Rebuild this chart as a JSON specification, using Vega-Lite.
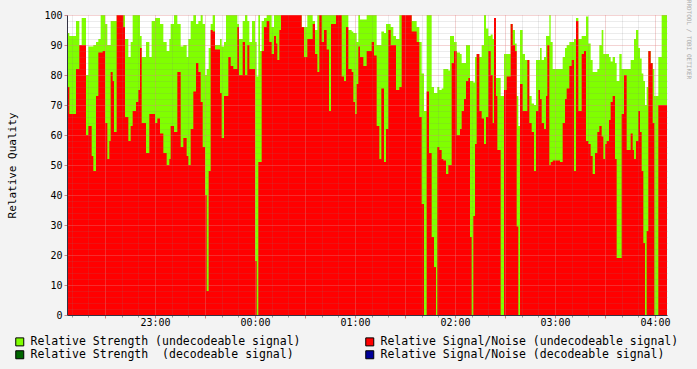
{
  "$schema": "https://vega.github.io/schema/vega-lite/v6.json",
  "width": 600,
  "height": 300,
  "autosize": {"type": "none"},
  "padding": {"left": 67, "top": 15, "right": 30, "bottom": 54},
  "background": "#f3f3f3",
  "config": {"view": {"fill": "#ffffff", "stroke": null}, "font": "DejaVu Sans Mono"},
  "data": {"values": [
    {"t":"2024-01-01T22:07:12","s":94,"n":76},
    {"t":"2024-01-01T22:08:36","s":93,"n":67},
    {"t":"2024-01-01T22:12:36","s":98,"n":82},
    {"t":"2024-01-01T22:14:36","s":90,"n":90},
    {"t":"2024-01-01T22:16:00","s":99,"n":90},
    {"t":"2024-01-01T22:18:36","s":80,"n":60},
    {"t":"2024-01-01T22:20:00","s":89.5,"n":63},
    {"t":"2024-01-01T22:22:00","s":89.5,"n":53},
    {"t":"2024-01-01T22:23:00","s":90,"n":48},
    {"t":"2024-01-01T22:24:36","s":91,"n":73},
    {"t":"2024-01-01T22:26:00","s":92,"n":87.5},
    {"t":"2024-01-01T22:27:24","s":100,"n":87.5},
    {"t":"2024-01-01T22:28:36","s":100,"n":88},
    {"t":"2024-01-01T22:30:00","s":97,"n":64},
    {"t":"2024-01-01T22:31:24","s":90,"n":52},
    {"t":"2024-01-01T22:32:36","s":90,"n":58},
    {"t":"2024-01-01T22:33:24","s":98,"n":81},
    {"t":"2024-01-01T22:34:36","s":98,"n":78},
    {"t":"2024-01-01T22:35:24","s":98,"n":61},
    {"t":"2024-01-01T22:37:00","s":100,"n":100},
    {"t":"2024-01-01T22:41:00","s":100,"n":96},
    {"t":"2024-01-01T22:42:00","s":92,"n":66},
    {"t":"2024-01-01T22:44:00","s":86,"n":58},
    {"t":"2024-01-01T22:45:24","s":91,"n":63},
    {"t":"2024-01-01T22:46:36","s":100,"n":68},
    {"t":"2024-01-01T22:48:36","s":100,"n":71},
    {"t":"2024-01-01T22:50:00","s":100,"n":75},
    {"t":"2024-01-01T22:51:00","s":93,"n":89},
    {"t":"2024-01-01T22:52:00","s":86,"n":64},
    {"t":"2024-01-01T22:54:36","s":91,"n":54},
    {"t":"2024-01-01T22:56:36","s":86,"n":67},
    {"t":"2024-01-01T22:58:00","s":98,"n":67},
    {"t":"2024-01-01T23:00:00","s":99,"n":64},
    {"t":"2024-01-01T23:01:24","s":99,"n":65.5},
    {"t":"2024-01-01T23:03:00","s":97,"n":60.5},
    {"t":"2024-01-01T23:05:00","s":91,"n":54},
    {"t":"2024-01-01T23:07:00","s":88,"n":50},
    {"t":"2024-01-01T23:08:36","s":92,"n":52},
    {"t":"2024-01-01T23:09:24","s":97,"n":63},
    {"t":"2024-01-01T23:11:24","s":100,"n":61},
    {"t":"2024-01-01T23:13:24","s":97,"n":81},
    {"t":"2024-01-01T23:15:24","s":89.5,"n":56},
    {"t":"2024-01-01T23:17:00","s":90,"n":59},
    {"t":"2024-01-01T23:19:00","s":86,"n":53},
    {"t":"2024-01-01T23:20:00","s":92,"n":50},
    {"t":"2024-01-01T23:21:24","s":98,"n":62},
    {"t":"2024-01-01T23:23:00","s":100,"n":74.5},
    {"t":"2024-01-01T23:24:36","s":97,"n":84},
    {"t":"2024-01-01T23:26:00","s":98,"n":81},
    {"t":"2024-01-01T23:27:24","s":100,"n":71},
    {"t":"2024-01-01T23:28:36","s":97,"n":56},
    {"t":"2024-01-01T23:30:00","s":80,"n":40},
    {"t":"2024-01-01T23:31:00","s":82,"n":8},
    {"t":"2024-01-01T23:32:12","s":89,"n":48},
    {"t":"2024-01-01T23:33:24","s":97,"n":95},
    {"t":"2024-01-01T23:34:36","s":100,"n":94.5},
    {"t":"2024-01-01T23:36:00","s":90,"n":88.5},
    {"t":"2024-01-01T23:39:00","s":92,"n":74},
    {"t":"2024-01-01T23:40:00","s":89.5,"n":59},
    {"t":"2024-01-01T23:41:24","s":91,"n":73},
    {"t":"2024-01-01T23:42:36","s":100,"n":73},
    {"t":"2024-01-01T23:44:00","s":100,"n":86},
    {"t":"2024-01-01T23:45:24","s":100,"n":83},
    {"t":"2024-01-01T23:47:00","s":100,"n":82},
    {"t":"2024-01-01T23:49:24","s":97,"n":96},
    {"t":"2024-01-01T23:50:24","s":92,"n":80},
    {"t":"2024-01-01T23:52:36","s":98,"n":91},
    {"t":"2024-01-01T23:54:00","s":100,"n":80},
    {"t":"2024-01-01T23:55:24","s":98,"n":90},
    {"t":"2024-01-01T23:56:36","s":91,"n":82},
    {"t":"2024-01-01T23:58:12","s":98,"n":82},
    {"t":"2024-01-02T00:00:00","s":91,"n":18},
    {"t":"2024-01-02T00:01:00","s":79.5,"n":0},
    {"t":"2024-01-02T00:02:00","s":100,"n":51},
    {"t":"2024-01-02T00:03:00","s":88,"n":51},
    {"t":"2024-01-02T00:04:00","s":98,"n":88},
    {"t":"2024-01-02T00:05:24","s":99,"n":96},
    {"t":"2024-01-02T00:07:00","s":100,"n":98},
    {"t":"2024-01-02T00:08:36","s":100,"n":91},
    {"t":"2024-01-02T00:10:00","s":96,"n":87},
    {"t":"2024-01-02T00:11:24","s":100,"n":93},
    {"t":"2024-01-02T00:12:36","s":100,"n":90.5},
    {"t":"2024-01-02T00:13:24","s":100,"n":85},
    {"t":"2024-01-02T00:14:36","s":100,"n":95},
    {"t":"2024-01-02T00:15:36","s":100,"n":100},
    {"t":"2024-01-02T00:28:00","s":96,"n":96},
    {"t":"2024-01-02T00:29:24","s":96,"n":86},
    {"t":"2024-01-02T00:31:24","s":100,"n":92},
    {"t":"2024-01-02T00:34:36","s":98,"n":97},
    {"t":"2024-01-02T00:36:00","s":95,"n":87},
    {"t":"2024-01-02T00:37:24","s":100,"n":81},
    {"t":"2024-01-02T00:38:36","s":100,"n":100},
    {"t":"2024-01-02T00:40:00","s":100,"n":91},
    {"t":"2024-01-02T00:41:24","s":100,"n":95},
    {"t":"2024-01-02T00:43:00","s":100,"n":88.5},
    {"t":"2024-01-02T00:44:24","s":100,"n":68},
    {"t":"2024-01-02T00:45:36","s":100,"n":97},
    {"t":"2024-01-02T00:48:36","s":100,"n":100},
    {"t":"2024-01-02T00:52:00","s":100,"n":79.5},
    {"t":"2024-01-02T00:53:24","s":100,"n":78},
    {"t":"2024-01-02T00:54:36","s":100,"n":96},
    {"t":"2024-01-02T00:56:00","s":95,"n":82},
    {"t":"2024-01-02T00:58:00","s":94.5,"n":81},
    {"t":"2024-01-02T00:59:00","s":94,"n":71},
    {"t":"2024-01-02T01:00:00","s":94,"n":67},
    {"t":"2024-01-02T01:01:00","s":91,"n":77},
    {"t":"2024-01-02T01:02:00","s":100,"n":89.5},
    {"t":"2024-01-02T01:03:00","s":98.5,"n":86},
    {"t":"2024-01-02T01:05:00","s":98.5,"n":83},
    {"t":"2024-01-02T01:07:00","s":100,"n":88},
    {"t":"2024-01-02T01:10:00","s":100,"n":91},
    {"t":"2024-01-02T01:11:24","s":100,"n":86.5},
    {"t":"2024-01-02T01:13:00","s":90,"n":63},
    {"t":"2024-01-02T01:14:36","s":90,"n":52},
    {"t":"2024-01-02T01:15:48","s":94.5,"n":75.5},
    {"t":"2024-01-02T01:17:24","s":94,"n":51},
    {"t":"2024-01-02T01:18:36","s":97,"n":62},
    {"t":"2024-01-02T01:20:00","s":97,"n":95},
    {"t":"2024-01-02T01:21:24","s":96,"n":90},
    {"t":"2024-01-02T01:23:00","s":93,"n":90},
    {"t":"2024-01-02T01:24:36","s":92,"n":75},
    {"t":"2024-01-02T01:26:36","s":100,"n":76},
    {"t":"2024-01-02T01:28:00","s":100,"n":100},
    {"t":"2024-01-02T01:34:00","s":98,"n":94.5},
    {"t":"2024-01-02T01:37:00","s":96,"n":91},
    {"t":"2024-01-02T01:38:36","s":91,"n":66},
    {"t":"2024-01-02T01:40:00","s":80.5,"n":37},
    {"t":"2024-01-02T01:41:24","s":68,"n":0},
    {"t":"2024-01-02T01:43:00","s":100,"n":74.5},
    {"t":"2024-01-02T01:44:24","s":100,"n":54},
    {"t":"2024-01-02T01:46:00","s":76,"n":26},
    {"t":"2024-01-02T01:47:24","s":74,"n":16},
    {"t":"2024-01-02T01:48:36","s":74,"n":0},
    {"t":"2024-01-02T01:49:24","s":76,"n":56},
    {"t":"2024-01-02T01:50:36","s":75,"n":55},
    {"t":"2024-01-02T01:52:00","s":75.5,"n":52},
    {"t":"2024-01-02T01:53:00","s":82,"n":51.5},
    {"t":"2024-01-02T01:54:36","s":82,"n":47},
    {"t":"2024-01-02T01:56:00","s":81.5,"n":50},
    {"t":"2024-01-02T01:57:00","s":93,"n":50},
    {"t":"2024-01-02T01:58:00","s":93,"n":84},
    {"t":"2024-01-02T01:59:24","s":91,"n":88},
    {"t":"2024-01-02T02:01:00","s":87.5,"n":60},
    {"t":"2024-01-02T02:03:00","s":87,"n":62},
    {"t":"2024-01-02T02:04:00","s":84,"n":68},
    {"t":"2024-01-02T02:05:24","s":84,"n":72},
    {"t":"2024-01-02T02:06:36","s":90,"n":78},
    {"t":"2024-01-02T02:08:00","s":90,"n":79},
    {"t":"2024-01-02T02:09:00","s":78,"n":26},
    {"t":"2024-01-02T02:10:00","s":78,"n":0},
    {"t":"2024-01-02T02:11:00","s":77.5,"n":33},
    {"t":"2024-01-02T02:12:00","s":86,"n":57},
    {"t":"2024-01-02T02:13:00","s":87,"n":87},
    {"t":"2024-01-02T02:14:36","s":86,"n":68},
    {"t":"2024-01-02T02:16:00","s":90,"n":65.5},
    {"t":"2024-01-02T02:17:24","s":100,"n":57},
    {"t":"2024-01-02T02:18:36","s":95.5,"n":66},
    {"t":"2024-01-02T02:20:00","s":93,"n":88},
    {"t":"2024-01-02T02:21:24","s":93.5,"n":80},
    {"t":"2024-01-02T02:22:36","s":92,"n":64},
    {"t":"2024-01-02T02:23:24","s":99,"n":99},
    {"t":"2024-01-02T02:24:36","s":79,"n":73},
    {"t":"2024-01-02T02:25:24","s":79,"n":55},
    {"t":"2024-01-02T02:27:24","s":73,"n":0},
    {"t":"2024-01-02T02:29:24","s":87,"n":75},
    {"t":"2024-01-02T02:31:00","s":87,"n":79.5},
    {"t":"2024-01-02T02:33:24","s":97,"n":97},
    {"t":"2024-01-02T02:34:36","s":95,"n":90},
    {"t":"2024-01-02T02:36:00","s":90.5,"n":88},
    {"t":"2024-01-02T02:37:00","s":73,"n":29.5},
    {"t":"2024-01-02T02:38:00","s":63,"n":0},
    {"t":"2024-01-02T02:39:00","s":95,"n":77},
    {"t":"2024-01-02T02:40:36","s":87,"n":68},
    {"t":"2024-01-02T02:42:00","s":85,"n":68},
    {"t":"2024-01-02T02:43:24","s":85,"n":85},
    {"t":"2024-01-02T02:44:36","s":73,"n":64},
    {"t":"2024-01-02T02:46:00","s":70.5,"n":61},
    {"t":"2024-01-02T02:47:24","s":70,"n":48},
    {"t":"2024-01-02T02:48:36","s":85,"n":68},
    {"t":"2024-01-02T02:50:00","s":85,"n":75},
    {"t":"2024-01-02T02:51:00","s":89,"n":72},
    {"t":"2024-01-02T02:52:00","s":85,"n":64},
    {"t":"2024-01-02T02:53:24","s":86,"n":62},
    {"t":"2024-01-02T02:54:36","s":93,"n":73},
    {"t":"2024-01-02T02:55:24","s":93,"n":90},
    {"t":"2024-01-02T02:56:36","s":100,"n":50},
    {"t":"2024-01-02T02:57:24","s":91,"n":51},
    {"t":"2024-01-02T02:58:36","s":82,"n":51.5},
    {"t":"2024-01-02T03:03:00","s":82,"n":51},
    {"t":"2024-01-02T03:04:36","s":86,"n":64},
    {"t":"2024-01-02T03:06:00","s":89,"n":72},
    {"t":"2024-01-02T03:07:00","s":90,"n":75.5},
    {"t":"2024-01-02T03:08:36","s":91,"n":83},
    {"t":"2024-01-02T03:10:00","s":91,"n":85},
    {"t":"2024-01-02T03:11:24","s":92,"n":48},
    {"t":"2024-01-02T03:12:36","s":99,"n":98},
    {"t":"2024-01-02T03:14:00","s":92,"n":68},
    {"t":"2024-01-02T03:16:00","s":93,"n":87},
    {"t":"2024-01-02T03:17:24","s":93,"n":88},
    {"t":"2024-01-02T03:18:36","s":99.5,"n":58},
    {"t":"2024-01-02T03:20:00","s":90.5,"n":57},
    {"t":"2024-01-02T03:21:24","s":85,"n":53},
    {"t":"2024-01-02T03:22:36","s":81,"n":47},
    {"t":"2024-01-02T03:24:00","s":81,"n":54},
    {"t":"2024-01-02T03:25:24","s":82,"n":61},
    {"t":"2024-01-02T03:26:36","s":90,"n":63},
    {"t":"2024-01-02T03:28:00","s":95,"n":59.5},
    {"t":"2024-01-02T03:29:00","s":87,"n":52},
    {"t":"2024-01-02T03:30:00","s":87,"n":57},
    {"t":"2024-01-02T03:31:00","s":87,"n":58},
    {"t":"2024-01-02T03:32:24","s":86,"n":65},
    {"t":"2024-01-02T03:33:24","s":84.5,"n":71},
    {"t":"2024-01-02T03:34:36","s":86,"n":73},
    {"t":"2024-01-02T03:36:00","s":84,"n":52},
    {"t":"2024-01-02T03:37:00","s":78,"n":19},
    {"t":"2024-01-02T03:38:36","s":87,"n":19},
    {"t":"2024-01-02T03:40:00","s":82,"n":67},
    {"t":"2024-01-02T03:41:24","s":82,"n":80},
    {"t":"2024-01-02T03:43:00","s":82,"n":55},
    {"t":"2024-01-02T03:45:24","s":85,"n":60.5},
    {"t":"2024-01-02T03:46:36","s":85,"n":55},
    {"t":"2024-01-02T03:47:24","s":92,"n":52},
    {"t":"2024-01-02T03:48:36","s":95,"n":58},
    {"t":"2024-01-02T03:50:00","s":89,"n":68},
    {"t":"2024-01-02T03:51:00","s":85.5,"n":61},
    {"t":"2024-01-02T03:52:00","s":80.5,"n":48},
    {"t":"2024-01-02T03:53:00","s":78,"n":24},
    {"t":"2024-01-02T03:54:00","s":70,"n":0},
    {"t":"2024-01-02T03:55:00","s":76,"n":28},
    {"t":"2024-01-02T03:56:00","s":88,"n":88},
    {"t":"2024-01-02T03:57:24","s":84,"n":84},
    {"t":"2024-01-02T03:58:36","s":82,"n":64},
    {"t":"2024-01-02T03:59:36","s":73,"n":0},
    {"t":"2024-01-02T04:02:00","s":86,"n":70},
    {"t":"2024-01-02T04:04:00","s":100,"n":70},
    {"t":"2024-01-02T04:07:12","s":100,"n":70}
  ]},
  "resolve": {"axis": {"x": "independent", "y": "independent"}},
  "layer": [
    {
      "mark": {"type": "area", "interpolate": "step-after"},
      "encoding": {
        "x": {"field": "t", "type": "temporal", "scale": {"nice": false},
              "axis": {"orient": "bottom", "values": [
                {"year":2024,"month":1,"date":1,"hours":22,"minutes":10},{"year":2024,"month":1,"date":1,"hours":22,"minutes":20},{"year":2024,"month":1,"date":1,"hours":22,"minutes":40},{"year":2024,"month":1,"date":1,"hours":22,"minutes":50},
                {"year":2024,"month":1,"date":1,"hours":23,"minutes":10},{"year":2024,"month":1,"date":1,"hours":23,"minutes":20},{"year":2024,"month":1,"date":1,"hours":23,"minutes":40},{"year":2024,"month":1,"date":1,"hours":23,"minutes":50},
                {"year":2024,"month":1,"date":2,"hours":0,"minutes":10},{"year":2024,"month":1,"date":2,"hours":0,"minutes":20},{"year":2024,"month":1,"date":2,"hours":0,"minutes":40},{"year":2024,"month":1,"date":2,"hours":0,"minutes":50},
                {"year":2024,"month":1,"date":2,"hours":1,"minutes":10},{"year":2024,"month":1,"date":2,"hours":1,"minutes":20},{"year":2024,"month":1,"date":2,"hours":1,"minutes":40},{"year":2024,"month":1,"date":2,"hours":1,"minutes":50},
                {"year":2024,"month":1,"date":2,"hours":2,"minutes":10},{"year":2024,"month":1,"date":2,"hours":2,"minutes":20},{"year":2024,"month":1,"date":2,"hours":2,"minutes":40},{"year":2024,"month":1,"date":2,"hours":2,"minutes":50},
                {"year":2024,"month":1,"date":2,"hours":3,"minutes":10},{"year":2024,"month":1,"date":2,"hours":3,"minutes":20},{"year":2024,"month":1,"date":2,"hours":3,"minutes":40},{"year":2024,"month":1,"date":2,"hours":3,"minutes":50}
              ], "grid": true, "gridColor": "#808080", "gridOpacity": 0.3, "gridDash": [1, 1], "labels": false, "ticks": true, "tickSize": 2, "tickColor": "#999999", "domain": false, "title": null, "zindex": 1}},
        "y": {"field": "s", "type": "quantitative", "scale": {"domain": [0, 100], "nice": false},
              "axis": {"orient": "right", "values": [2,4,6,8,12,14,16,18,22,24,26,28,32,34,36,38,42,44,46,48,52,54,56,58,62,64,66,68,72,74,76,78,82,84,86,88,92,94,96,98], "grid": true, "gridColor": "#808080", "gridOpacity": 0.3, "gridDash": [1, 1], "labels": false, "ticks": false, "domain": false, "title": "RRDTOOL / TOBI OETIKER", "titleFont": "DejaVu Sans Mono", "titleFontSize": 6, "titleFontWeight": "normal", "titleColor": "#aaaaaa", "titleAngle": 90, "titleX": 21, "titleY": 24, "titleAlign": "center", "titleBaseline": "middle", "zindex": 1}},
        "color": {"datum": "Relative Strength (undecodeable signal)", "type": "nominal",
                  "scale": {"domain": ["Relative Strength (undecodeable signal)", "Relative Signal/Noise (undecodeable signal)", "Relative Strength\u00a0 (decodeable signal)", "Relative Signal/Noise (decodeable signal)"], "range": ["#80ff00", "#ff0000", "#006600", "#000099"]},
                  "legend": {"orient": "none", "legendX": -53, "legendY": 321, "direction": "horizontal", "columns": 2, "columnPadding": 62, "rowPadding": 0, "padding": 0, "title": null, "symbolType": "square", "symbolSize": 64, "symbolStrokeColor": "#000000", "symbolStrokeWidth": 1, "symbolOpacity": 1, "labelFont": "DejaVu Sans Mono", "labelFontSize": 11.5, "labelColor": "#000000", "labelOffset": 5, "labelLimit": 500}}
      }
    },
    {
      "mark": {"type": "area", "interpolate": "step-after"},
      "encoding": {
        "x": {"field": "t", "type": "temporal",
              "axis": {"orient": "bottom", "values": [
                {"year":2024,"month":1,"date":1,"hours":22,"minutes":30},{"year":2024,"month":1,"date":1,"hours":23,"minutes":0},{"year":2024,"month":1,"date":1,"hours":23,"minutes":30},
                {"year":2024,"month":1,"date":2,"hours":0,"minutes":0},{"year":2024,"month":1,"date":2,"hours":0,"minutes":30},{"year":2024,"month":1,"date":2,"hours":1,"minutes":0},{"year":2024,"month":1,"date":2,"hours":1,"minutes":30},
                {"year":2024,"month":1,"date":2,"hours":2,"minutes":0},{"year":2024,"month":1,"date":2,"hours":2,"minutes":30},{"year":2024,"month":1,"date":2,"hours":3,"minutes":0},{"year":2024,"month":1,"date":2,"hours":3,"minutes":30},
                {"year":2024,"month":1,"date":2,"hours":4,"minutes":0}
              ], "grid": true, "gridColor": "#e08080", "gridOpacity": 0.7, "gridDash": [1, 1], "labels": false, "tickSize": 3, "tickColor": "#cc8888", "domain": false, "title": null, "zindex": 1}},
        "y": {"field": "n", "type": "quantitative",
              "axis": {"orient": "left", "values": [0,10,20,30,40,50,60,70,80,90,100], "grid": true, "gridColor": "#e08080", "gridOpacity": 0.7, "gridDash": [1, 1], "labelFont": "DejaVu Sans Mono", "labelFontSize": 10, "labelColor": "#000000", "labelPadding": 2, "tickSize": 3, "tickColor": "#cc8888", "domain": true, "domainColor": "#333344", "title": "Relative Quality", "titleFont": "DejaVu Sans Mono", "titleFontSize": 11, "titleFontWeight": "normal", "titleColor": "#000000", "titleX": -55, "titleY": 150, "titleAngle": -90, "titleAlign": "center", "titleBaseline": "middle", "zindex": 1}},
        "color": {"datum": "Relative Signal/Noise (undecodeable signal)", "type": "nominal"}
      }
    },
    {
      "mark": {"type": "area", "interpolate": "step-after", "opacity": 0},
      "encoding": {
        "x": {"field": "t", "type": "temporal",
              "axis": {"orient": "bottom", "values": [
                {"year":2024,"month":1,"date":1,"hours":23,"minutes":0},{"year":2024,"month":1,"date":2,"hours":0,"minutes":0},{"year":2024,"month":1,"date":2,"hours":1,"minutes":0},
                {"year":2024,"month":1,"date":2,"hours":2,"minutes":0},{"year":2024,"month":1,"date":2,"hours":3,"minutes":0},{"year":2024,"month":1,"date":2,"hours":4,"minutes":0}
              ], "format": "%H:%M", "grid": false, "labelFont": "DejaVu Sans Mono", "labelFontSize": 10, "labelColor": "#000000", "labelPadding": 2, "ticks": false, "domain": true, "domainColor": "#333344", "title": null, "zindex": 1}},
        "y": {"field": "n", "type": "quantitative", "axis": null}
      }
    }
  ]
}
